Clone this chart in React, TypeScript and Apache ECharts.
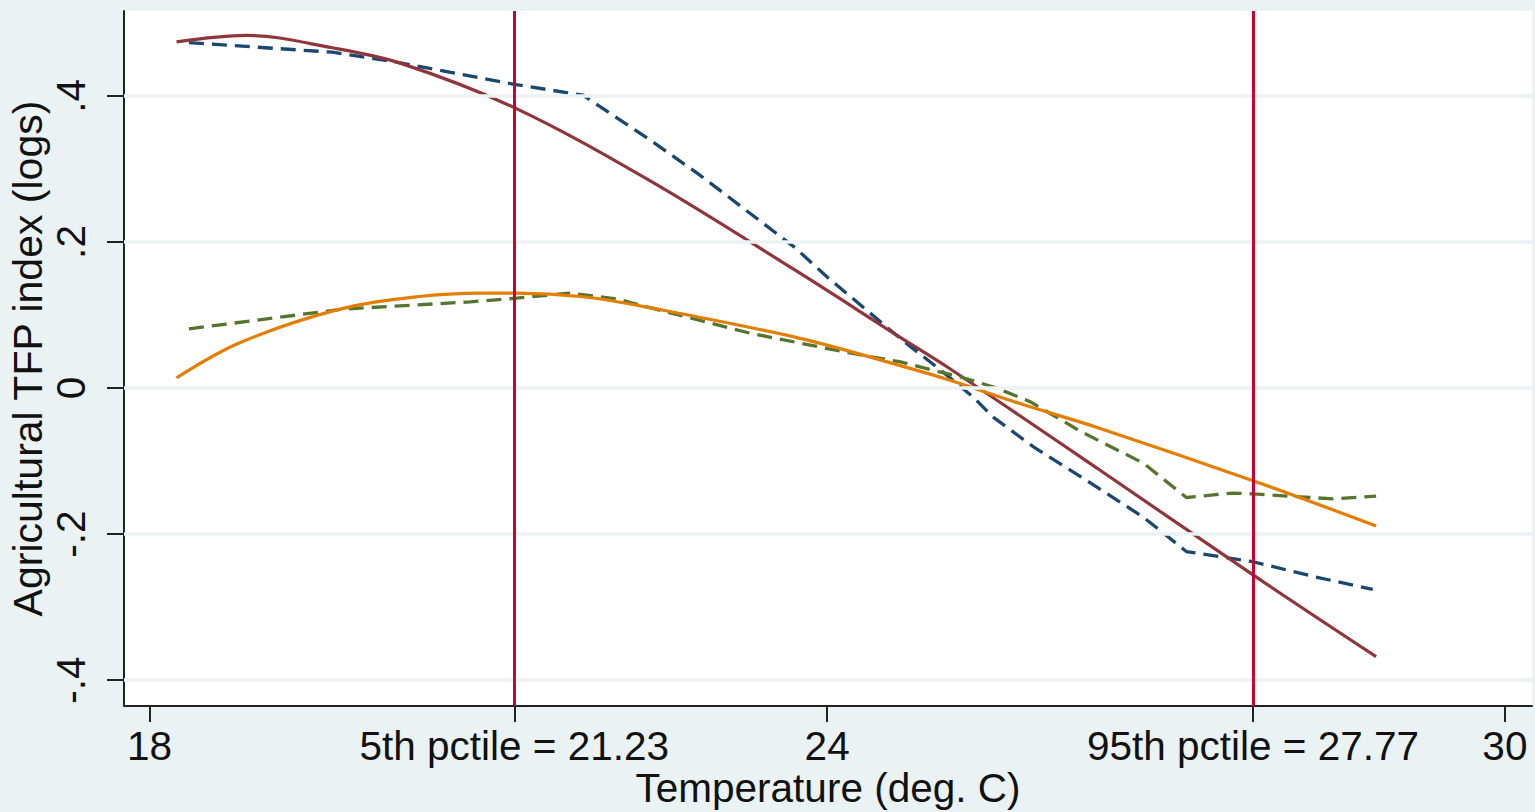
import React, { useEffect, useRef } from "react";
import * as echarts from "echarts";

// ---- Data ----
const maroonX = [18.24, 18.86, 19.62, 20.22, 21.23, 22.43, 23.71, 24.64, 25.08, 26.41, 27.77, 28.86];
const maroonY = [0.474, 0.483, 0.466, 0.445, 0.384, 0.284, 0.162, 0.070, 0.027, -0.112, -0.256, -0.368];

const navyX = [18.35, 19.62, 20.16, 21.23, 21.84, 22.43, 22.87, 23.71, 24.0, 24.67, 25.0, 25.29, 25.47, 25.83, 26.33, 26.8, 27.18, 27.77, 28.3, 28.83];
const navyY = [0.473, 0.460, 0.447, 0.416, 0.401, 0.340, 0.292, 0.193, 0.152, 0.065, 0.025, -0.012, -0.040, -0.081, -0.130, -0.177, -0.224, -0.238, -0.258, -0.276];

const greenX = [18.35, 19.71, 20.84, 21.25, 21.72, 22.14, 22.43, 23.32, 24.2, 24.64, 25.18, 25.5, 25.8, 26.25, 26.8, 27.18, 27.59, 27.77, 28.48, 28.86];
const greenY = [0.081, 0.108, 0.118, 0.123, 0.130, 0.122, 0.110, 0.075, 0.048, 0.036, 0.015, 0.0, -0.019, -0.060, -0.103, -0.150, -0.144, -0.145, -0.152, -0.148];

const orangeX = [18.24, 18.8, 19.66, 20.37, 20.95, 21.25, 21.84, 22.43, 23.76, 24.64, 25.08, 25.72, 26.41, 27.77, 28.86];
const orangeY = [0.014, 0.062, 0.107, 0.125, 0.130, 0.130, 0.125, 0.110, 0.068, 0.031, 0.011, -0.022, -0.055, -0.127, -0.189];

const pctileLines = [21.23, 27.77];
const xTicks = [18, 21.23, 24, 27.77, 30];
const xTickLabels = ["18", "5th pctile = 21.23", "24", "95th pctile = 27.77", "30"];
const yTicks = [-0.4, -0.2, 0, 0.2, 0.4];
const yTickLabels = ["-.4", "-.2", "0", ".2", ".4"];

const xName = "Temperature (deg. C)";
const yName = "Agricultural TFP index (logs)";

const pairs = (xs: number[], ys: number[]) => xs.map((x, i) => [x, ys[i]]);

const FONT = "Liberation Sans, Arial, sans-serif";
const TXT = "#111111";

export default function App() {
  const ref = useRef<HTMLDivElement>(null);
  useEffect(() => {
    if (!ref.current) return;
    const chart = echarts.init(ref.current, null, { renderer: "svg" });
    const labelFor = (ticks: number[], labels: string[]) => (v: number) => {
      for (let i = 0; i < ticks.length; i++) if (Math.abs(ticks[i] - v) < 1e-6) return labels[i];
      return "";
    };
    chart.setOption({
      animation: false,
      backgroundColor: "#EAF2F3",
      textStyle: { fontFamily: FONT },
      grid: {
        left: 124, top: 11, right: 3, bottom: 106,
        outerBoundsMode: "none", containLabel: false,
        show: true, backgroundColor: "#ffffff", borderWidth: 0,
      },
      xAxis: {
        type: "value", min: 17.775, max: 30.24,
        name: xName, nameLocation: "middle", nameGap: 62, nameMoveOverlap: false,
        nameTextStyle: { fontSize: 40.5, lineHeight: 40, color: TXT, fontFamily: FONT },
        axisLine: { show: true, onZero: false, lineStyle: { color: "#222", width: 2 } },
        axisTick: { show: true, customValues: xTicks, length: 16, lineStyle: { color: "#222", width: 2 } },
        axisLabel: { customValues: xTicks, formatter: labelFor(xTicks, xTickLabels), fontSize: 40.5, color: TXT, margin: 19, fontFamily: FONT },
        splitLine: { show: false },
      },
      yAxis: {
        type: "value", min: -0.4356, max: 0.5164,
        name: yName, nameLocation: "middle", nameGap: 76, nameMoveOverlap: false,
        nameTextStyle: { fontSize: 41, lineHeight: 41, color: TXT, fontFamily: FONT },
        axisLine: { show: true, onZero: false, lineStyle: { color: "#222", width: 2 } },
        axisTick: { show: true, customValues: yTicks, length: 17, lineStyle: { color: "#222", width: 2 } },
        axisLabel: { customValues: yTicks, formatter: labelFor(yTicks, yTickLabels), rotate: 90, fontSize: 40.5, color: TXT, margin: 33, fontFamily: FONT },
        splitLine: { show: false },
      },
      series: [
        {
          type: "line", data: [], silent: true, z: 1,
          markLine: {
            silent: true, symbol: ["none", "none"], label: { show: false },
            lineStyle: { color: "#EAF2F3", width: 3.5, type: "solid" },
            data: yTicks.map((v) => ({ yAxis: v })),
          },
        },
        {
          type: "line", data: pairs(navyX, navyY), showSymbol: false, symbol: "none", z: 3,
          lineStyle: { color: "#1a476f", width: 3.3, type: [15, 8] },
        },
        {
          type: "line", data: pairs(maroonX, maroonY), showSymbol: false, symbol: "none", smooth: 0.35, z: 3,
          lineStyle: { color: "#90353b", width: 3.2 },
        },
        {
          type: "line", data: pairs(greenX, greenY), showSymbol: false, symbol: "none", z: 3,
          lineStyle: { color: "#55752f", width: 3.3, type: [15, 8] },
        },
        {
          type: "line", data: pairs(orangeX, orangeY), showSymbol: false, symbol: "none", smooth: 0.35, z: 3,
          lineStyle: { color: "#e37e00", width: 3.2 },
        },
        {
          type: "line", data: [], silent: true, z: 4,
          markLine: {
            silent: true, symbol: ["none", "none"], label: { show: false },
            lineStyle: { color: "#c10534", width: 3, type: "solid" },
            data: pctileLines.map((v) => ({ xAxis: v })),
          },
        },
      ],
    });
    return () => chart.dispose();
  }, []);
  return <div ref={ref} style={{ position: "absolute", left: 0, top: 0, width: 1535, height: 812 }} />;
}
